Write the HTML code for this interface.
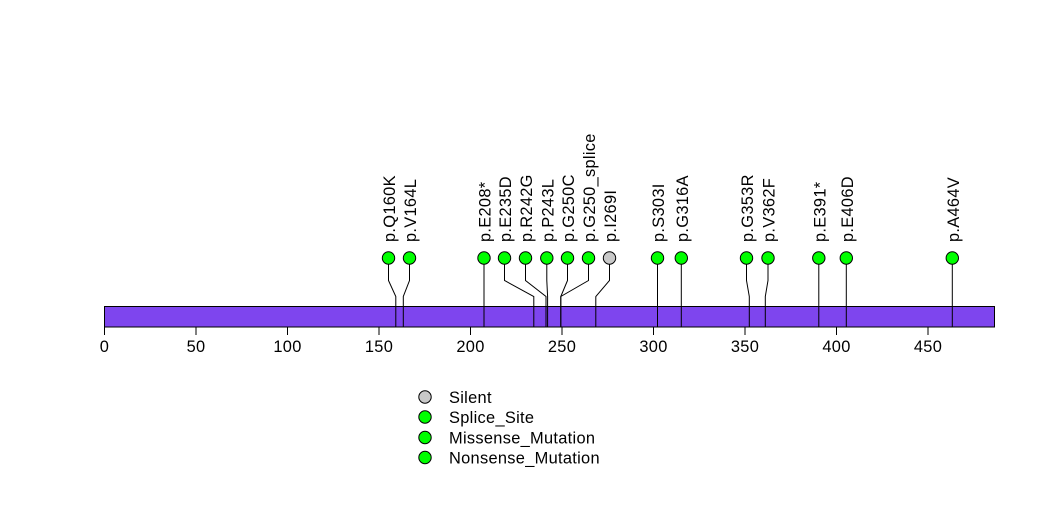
<!DOCTYPE html>
<html>
<head>
<meta charset="utf-8">
<style>
html,body{margin:0;padding:0;background:#fff;}
svg{display:block;}
text{font-family:"Liberation Sans",Arial,sans-serif;font-size:16.4px;fill:#000;letter-spacing:0.3px;}
</style>
</head>
<body>
<svg width="1047" height="524" viewBox="0 0 1047 524" xmlns="http://www.w3.org/2000/svg">
<rect x="0" y="0" width="1047" height="524" fill="#fff"/>

<!-- bar -->
<rect x="104.5" y="306.5" width="890" height="20.5" fill="#7E45EE" stroke="#000" stroke-width="1"/>

<!-- connectors -->
<g stroke="#000" stroke-width="1" fill="none">
  <polyline points="388.5,258 388.5,280.5 395.8,296.5 395.8,327"/>
  <polyline points="409.5,258 409.5,280.5 403.3,296.5 403.3,327"/>
  <polyline points="484,258 484,327"/>
  <polyline points="504.5,258 504.5,280.5 533.8,296.5 533.8,327"/>
  <polyline points="525.5,258 525.5,280.5 546,296.5 546,327"/>
  <polyline points="546.8,258 546.8,280.5 547.6,296.5 547.6,327"/>
  <polyline points="567.5,258 567.5,280.5 560.8,296.5 560.8,327"/>
  <polyline points="588.5,258 588.5,280.5 560.8,296.5 560.8,327"/>
  <polyline points="609.5,258 609.5,280.5 595.8,296.5 595.8,327"/>
  <polyline points="657.5,258 657.5,327"/>
  <polyline points="681.3,258 681.3,327"/>
  <polyline points="746.5,258 746.5,280.5 749.3,296.5 749.3,327"/>
  <polyline points="768,258 768,280.5 765.3,296.5 765.3,327"/>
  <polyline points="818.8,258 818.8,327"/>
  <polyline points="846.3,258 846.3,327"/>
  <polyline points="952.3,258 952.3,327"/>
</g>

<!-- lollipop heads -->
<g stroke="#000" stroke-width="1">
  <circle cx="388.5" cy="258" r="6.2" fill="#00FF00"/>
  <circle cx="409.5" cy="258" r="6.2" fill="#00FF00"/>
  <circle cx="484" cy="258" r="6.2" fill="#00FF00"/>
  <circle cx="504.5" cy="258" r="6.2" fill="#00FF00"/>
  <circle cx="525.5" cy="258" r="6.2" fill="#00FF00"/>
  <circle cx="546.8" cy="258" r="6.2" fill="#00FF00"/>
  <circle cx="567.5" cy="258" r="6.2" fill="#00FF00"/>
  <circle cx="588.5" cy="258" r="6.2" fill="#00FF00"/>
  <circle cx="609.5" cy="258" r="6.2" fill="#C8C8C8"/>
  <circle cx="657.5" cy="258" r="6.2" fill="#00FF00"/>
  <circle cx="681.3" cy="258" r="6.2" fill="#00FF00"/>
  <circle cx="746.5" cy="258" r="6.2" fill="#00FF00"/>
  <circle cx="768" cy="258" r="6.2" fill="#00FF00"/>
  <circle cx="818.8" cy="258" r="6.2" fill="#00FF00"/>
  <circle cx="846.3" cy="258" r="6.2" fill="#00FF00"/>
  <circle cx="952.3" cy="258" r="6.2" fill="#00FF00"/>
</g>

<!-- rotated labels -->
<g>
  <text transform="translate(395,242) rotate(-90)">p.Q160K</text>
  <text transform="translate(416,242) rotate(-90)">p.V164L</text>
  <text transform="translate(490.5,242) rotate(-90)">p.E208*</text>
  <text transform="translate(511,242) rotate(-90)">p.E235D</text>
  <text transform="translate(532,242) rotate(-90)">p.R242G</text>
  <text transform="translate(553.3,242) rotate(-90)">p.P243L</text>
  <text transform="translate(574,242) rotate(-90)">p.G250C</text>
  <text transform="translate(595,242) rotate(-90)">p.G250_splice</text>
  <text transform="translate(616,242) rotate(-90)">p.I269I</text>
  <text transform="translate(664,242) rotate(-90)">p.S303I</text>
  <text transform="translate(687.8,242) rotate(-90)">p.G316A</text>
  <text transform="translate(753,242) rotate(-90)">p.G353R</text>
  <text transform="translate(774.5,242) rotate(-90)">p.V362F</text>
  <text transform="translate(825.3,242) rotate(-90)">p.E391*</text>
  <text transform="translate(852.8,242) rotate(-90)">p.E406D</text>
  <text transform="translate(958.8,242) rotate(-90)">p.A464V</text>
</g>

<!-- axis ticks -->
<g stroke="#000" stroke-width="1">
  <line x1="104.5" y1="327" x2="104.5" y2="335"/>
  <line x1="196" y1="327" x2="196" y2="335"/>
  <line x1="287.5" y1="327" x2="287.5" y2="335"/>
  <line x1="379" y1="327" x2="379" y2="335"/>
  <line x1="470.5" y1="327" x2="470.5" y2="335"/>
  <line x1="562" y1="327" x2="562" y2="335"/>
  <line x1="653.5" y1="327" x2="653.5" y2="335"/>
  <line x1="745" y1="327" x2="745" y2="335"/>
  <line x1="836.5" y1="327" x2="836.5" y2="335"/>
  <line x1="928" y1="327" x2="928" y2="335"/>
</g>
<g text-anchor="middle">
  <text x="104.5" y="352">0</text>
  <text x="196" y="352">50</text>
  <text x="287.5" y="352">100</text>
  <text x="379" y="352">150</text>
  <text x="470.5" y="352">200</text>
  <text x="562" y="352">250</text>
  <text x="653.5" y="352">300</text>
  <text x="745" y="352">350</text>
  <text x="836.5" y="352">400</text>
  <text x="928" y="352">450</text>
</g>

<!-- legend -->
<g stroke="#000" stroke-width="1">
  <circle cx="425" cy="397" r="6.2" fill="#C8C8C8"/>
  <circle cx="425" cy="417" r="6.2" fill="#00FF00"/>
  <circle cx="425" cy="437.5" r="6.2" fill="#00FF00"/>
  <circle cx="425" cy="457.5" r="6.2" fill="#00FF00"/>
</g>
<g>
  <text x="449" y="403">Silent</text>
  <text x="449" y="423">Splice_Site</text>
  <text x="449" y="443.5">Missense_Mutation</text>
  <text x="449" y="463.5">Nonsense_Mutation</text>
</g>
</svg>
</body>
</html>
